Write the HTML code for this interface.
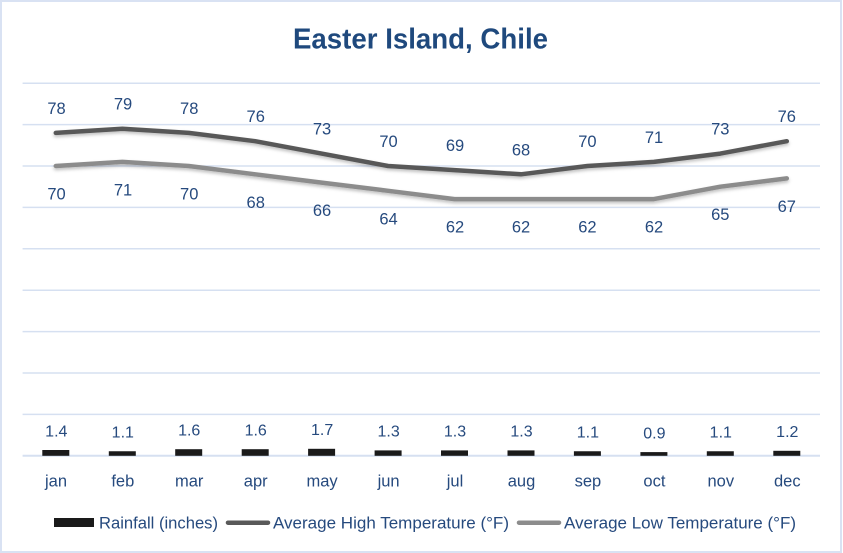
<!DOCTYPE html>
<html><head><meta charset="utf-8"><style>
html,body{margin:0;padding:0;background:#fff;}
svg{display:block;}
text{font-family:"Liberation Sans",Arial,sans-serif;fill:#264A7E;}
</style></head><body>
<svg width="843" height="553" viewBox="0 0 843 553" xmlns="http://www.w3.org/2000/svg">
<defs>
<filter id="sh" x="-5%" y="-20%" width="110%" height="160%">
<feDropShadow dx="0" dy="2" stdDeviation="1.5" flood-color="#000" flood-opacity="0.25"/>
</filter>
</defs>
<rect x="0" y="0" width="843" height="553" fill="#fff"/>
<rect x="1" y="1" width="840" height="551" fill="none" stroke="#D9E2F3" stroke-width="2"/>
<text x="420.5" y="48.3" font-size="29" font-weight="bold" text-anchor="middle" textLength="255" lengthAdjust="spacingAndGlyphs" style="fill:#1F497D">Easter Island, Chile</text>
<g stroke="#D6E0F1" stroke-width="1.5">
<line x1="22.6" x2="820" y1="83.2" y2="83.2"/>
<line x1="22.6" x2="820" y1="124.6" y2="124.6"/>
<line x1="22.6" x2="820" y1="166" y2="166"/>
<line x1="22.6" x2="820" y1="207.4" y2="207.4"/>
<line x1="22.6" x2="820" y1="248.8" y2="248.8"/>
<line x1="22.6" x2="820" y1="290.2" y2="290.2"/>
<line x1="22.6" x2="820" y1="331.6" y2="331.6"/>
<line x1="22.6" x2="820" y1="373" y2="373"/>
<line x1="22.6" x2="820" y1="414.4" y2="414.4"/>
<line x1="22.6" x2="820" y1="455.8" y2="455.8" stroke-width="2"/>
</g>
<g fill="#1A1A1A">
<rect x="42.3" y="450" width="27" height="5.8"/>
<rect x="108.8" y="451.25" width="27" height="4.55"/>
<rect x="175.2" y="449.2" width="27" height="6.6"/>
<rect x="241.7" y="449.2" width="27" height="6.6"/>
<rect x="308.1" y="448.8" width="27" height="7"/>
<rect x="374.6" y="450.4" width="27" height="5.4"/>
<rect x="441" y="450.4" width="27" height="5.4"/>
<rect x="507.5" y="450.4" width="27" height="5.4"/>
<rect x="573.9" y="451.25" width="27" height="4.55"/>
<rect x="640.4" y="452.1" width="27" height="3.7"/>
<rect x="706.8" y="451.25" width="27" height="4.55"/>
<rect x="773.3" y="450.8" width="27" height="5"/>
</g>
<g fill="none" stroke-width="4.5" stroke-linecap="round" stroke-linejoin="round" filter="url(#sh)">
<polyline stroke="#8C8C8C" points="55.8,166 122.3,161.9 188.7,166 255.2,174.3 321.6,182.6 388.1,190.8 454.5,199.1 521,199.1 587.4,199.1 653.9,199.1 720.3,186.7 786.8,178.4"/>
<polyline stroke="#595959" points="55.8,132.9 122.3,128.7 188.7,132.9 255.2,141.2 321.6,153.6 388.1,166 454.5,170.1 521,174.3 587.4,166 653.9,161.9 720.3,153.6 786.8,141.2"/>
</g>
<g font-size="16.5" text-anchor="middle">
<text x="56.5" y="113.9">78</text>
<text x="123" y="109.7">79</text>
<text x="189.2" y="113.9">78</text>
<text x="255.7" y="122.2">76</text>
<text x="322" y="134.6">73</text>
<text x="388.5" y="147">70</text>
<text x="455" y="151.1">69</text>
<text x="521" y="155.3">68</text>
<text x="587.4" y="147">70</text>
<text x="654" y="142.9">71</text>
<text x="720.3" y="134.6">73</text>
<text x="786.8" y="122.2">76</text>

<text x="56.5" y="199.5">70</text>
<text x="123" y="195.4">71</text>
<text x="189.2" y="199.5">70</text>
<text x="255.7" y="207.8">68</text>
<text x="322" y="216.1">66</text>
<text x="388.5" y="224.3">64</text>
<text x="455" y="232.6">62</text>
<text x="521" y="232.6">62</text>
<text x="587.4" y="232.6">62</text>
<text x="654" y="232.6">62</text>
<text x="720.3" y="220.2">65</text>
<text x="786.8" y="211.9">67</text>
</g>
<g font-size="16" text-anchor="middle">
<text x="56.3" y="436.3">1.4</text>
<text x="122.8" y="437.5">1.1</text>
<text x="189.2" y="435.5">1.6</text>
<text x="255.7" y="435.5">1.6</text>
<text x="322.1" y="435.1">1.7</text>
<text x="388.6" y="436.7">1.3</text>
<text x="455" y="436.7">1.3</text>
<text x="521.5" y="436.7">1.3</text>
<text x="587.9" y="437.5">1.1</text>
<text x="654.4" y="438.4">0.9</text>
<text x="720.8" y="437.5">1.1</text>
<text x="787.3" y="437.1">1.2</text>
</g>
<g font-size="16.5" text-anchor="middle">
<text x="56" y="486.7">jan</text>
<text x="122.8" y="486.7">feb</text>
<text x="189.2" y="486.7">mar</text>
<text x="255.7" y="486.7">apr</text>
<text x="322.1" y="486.7">may</text>
<text x="388.6" y="486.7">jun</text>
<text x="455" y="486.7">jul</text>
<text x="521.5" y="486.7">aug</text>
<text x="587.9" y="486.7">sep</text>
<text x="654.4" y="486.7">oct</text>
<text x="720.8" y="486.7">nov</text>
<text x="787.3" y="486.7">dec</text>
</g>
<rect x="54" y="518" width="40" height="9" fill="#1A1A1A"/>
<text x="99" y="528.3" font-size="16.5" textLength="119" lengthAdjust="spacingAndGlyphs">Rainfall (inches)</text>
<line x1="228" x2="268" y1="522.7" y2="522.7" stroke="#595959" stroke-width="4.5" stroke-linecap="round"/>
<text x="273" y="528.3" font-size="16.5" textLength="236" lengthAdjust="spacingAndGlyphs">Average High Temperature (°F)</text>
<line x1="519" x2="559" y1="522.7" y2="522.7" stroke="#8C8C8C" stroke-width="4.5" stroke-linecap="round"/>
<text x="564" y="528.3" font-size="16.5" textLength="232" lengthAdjust="spacingAndGlyphs">Average Low Temperature (°F)</text>
</svg>
</body></html>
